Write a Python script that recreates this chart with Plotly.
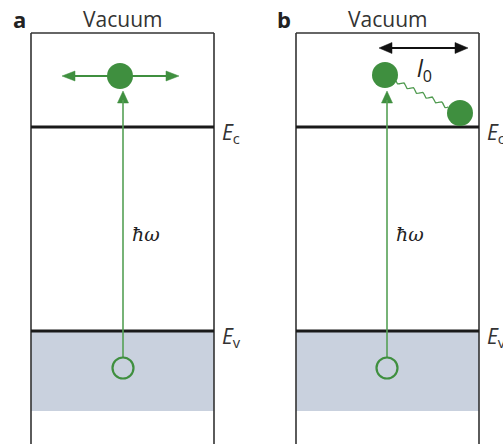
import numpy as np
import plotly.graph_objects as go

# ---- diagram data (drawing coordinates, y grows downward) ----
panel_labels = ["a", "b"]
panel_left = [31, 296]
panel_right = [214, 479]
photon_x = [123, 387]
vacuum_top = 33
level_names = ["<i>E</i><sub>c</sub>", "<i>E</i><sub>v</sub>"]
level_y = [127, 331]
band_bottom = 411
hole_y = 368
electron_a = (120, 76)
electron_b = [(385, 75), (460, 113)]
l0_span = [379, 468]
l0_y = 48

GREEN = "#3f8f3f"
LINE = "#333333"
FONT = "Open Sans, Noto Sans, sans-serif"

fig = go.Figure()
shapes = []
annotations = []

def tri(tip, base_center, half_w):
    tx, ty = tip
    bx, by = base_center
    dx, dy = tx - bx, ty - by
    L = (dx * dx + dy * dy) ** 0.5
    nx, ny = -dy / L, dx / L
    return [tx, bx + nx * half_w, bx - nx * half_w, tx], [ty, by + ny * half_w, by - ny * half_w, ty]

def add_poly(xs, ys, color):
    fig.add_trace(go.Scatter(x=xs, y=ys, mode="lines", fill="toself", fillcolor=color,
                             line=dict(color=color, width=0.5), hoverinfo="skip", showlegend=False))

for i, lab in enumerate(panel_labels):
    L, R = panel_left[i], panel_right[i]
    # valence band shading
    shapes.append(dict(type="rect", x0=L, x1=R, y0=level_y[1], y1=band_bottom,
                       fillcolor="#c9d1de", line=dict(width=0), layer="below"))
    # box sides and top
    shapes.append(dict(type="line", x0=L, x1=L, y0=vacuum_top, y1=444, line=dict(color=LINE, width=1.6)))
    shapes.append(dict(type="line", x0=R, x1=R, y0=vacuum_top, y1=444, line=dict(color=LINE, width=1.6)))
    shapes.append(dict(type="line", x0=L, x1=R, y0=vacuum_top, y1=vacuum_top, line=dict(color=LINE, width=1.6)))
    # energy levels
    for ly, name in zip(level_y, level_names):
        shapes.append(dict(type="line", x0=L, x1=R, y0=ly, y1=ly, line=dict(color="#1a1a1a", width=3)))
        annotations.append(dict(x=R + 6, y=ly + 6, text=name, showarrow=False, xanchor="left", yanchor="middle",
                                font=dict(family=FONT, size=21, color="#333333")))
    # photon line
    px = photon_x[i]
    shapes.append(dict(type="line", x0=px, x1=px, y0=hole_y - 11, y1=100, line=dict(color="#55a055", width=1.6)))
    xs, ys = tri((px, 91), (px, 103), 5.5)
    add_poly(xs, ys, GREEN)
    # hole
    shapes.append(dict(type="circle", x0=px - 10.5, x1=px + 10.5, y0=hole_y - 10.5, y1=hole_y + 10.5,
                       line=dict(color=GREEN, width=2.2), fillcolor="rgba(0,0,0,0)"))
    # labels
    annotations.append(dict(x=(L + R) / 2, y=19, text="Vacuum", showarrow=False,
                            font=dict(family=FONT, size=21, color="#333333")))
    annotations.append(dict(x=L - 12, y=19, text="<b>" + lab + "</b>", showarrow=False,
                            font=dict(family=FONT, size=22, color="#222222")))
    annotations.append(dict(x=px + 7, y=234, text="<i>ħω</i>", showarrow=False, xanchor="left",
                            font=dict(family="DejaVu Serif, serif", size=19, color="#222222")))

# panel a: free electron with horizontal arrows
ex, ey = electron_a
shapes.append(dict(type="line", x0=72, x1=168, y0=ey, y1=ey, line=dict(color=GREEN, width=1.8)))
xs, ys = tri((62, ey), (75, ey), 5)
add_poly(xs, ys, GREEN)
xs, ys = tri((179, ey), (166, ey), 5)
add_poly(xs, ys, GREEN)
shapes.append(dict(type="circle", x0=ex - 13, x1=ex + 13, y0=ey - 13, y1=ey + 13,
                   line=dict(color=GREEN, width=0), fillcolor=GREEN))

# panel b: wavy line between electrons
(x1, y1), (x2, y2) = electron_b
t = np.linspace(0, 1, 300)
sx, sy = x1 + 11, y1 + 6
fx, fy = x2 - 12, y2 - 6
dx, dy = fx - sx, fy - sy
Ln = (dx * dx + dy * dy) ** 0.5
nx, ny = -dy / Ln, dx / Ln
amp = 1.8 * np.sin(2 * np.pi * 5.5 * t)
fig.add_trace(go.Scatter(x=sx + dx * t + nx * amp, y=sy + dy * t + ny * amp, mode="lines",
                         line=dict(color="#4f9a4f", width=1.3), hoverinfo="skip", showlegend=False))
for (cx, cy) in electron_b:
    shapes.append(dict(type="circle", x0=cx - 13, x1=cx + 13, y0=cy - 13, y1=cy + 13,
                       line=dict(color=GREEN, width=0), fillcolor=GREEN))

# l0 double arrow
shapes.append(dict(type="line", x0=l0_span[0] + 8, x1=l0_span[1] - 8, y0=l0_y, y1=l0_y,
                   line=dict(color="#111111", width=1.8)))
xs, ys = tri((l0_span[0], l0_y), (l0_span[0] + 13, l0_y), 5.5)
add_poly(xs, ys, "#111111")
xs, ys = tri((l0_span[1], l0_y), (l0_span[1] - 13, l0_y), 5.5)
add_poly(xs, ys, "#111111")
annotations.append(dict(x=415, y=69, text="<i>l</i><sub>0</sub>", showarrow=False, xanchor="left",
                        font=dict(family=FONT, size=23, color="#222222")))

fig.update_layout(
    width=503, height=444, margin=dict(l=0, r=0, t=0, b=0),
    paper_bgcolor="white", plot_bgcolor="white",
    xaxis=dict(range=[0, 503], visible=False, fixedrange=True),
    yaxis=dict(range=[444, 0], visible=False, fixedrange=True),
    shapes=shapes, annotations=annotations, showlegend=False,
)
fig.write_html("out.html")
